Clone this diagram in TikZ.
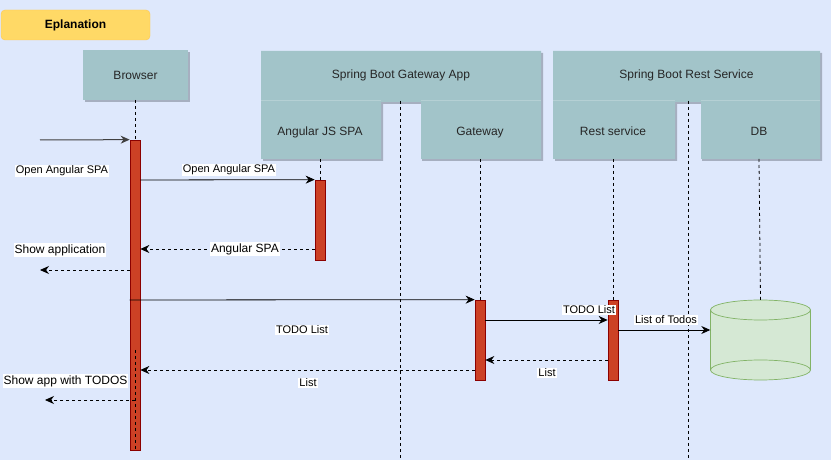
\documentclass[tikz,border=0pt]{standalone}
\usepackage{fontspec}
\setmainfont{Liberation Sans}
\usetikzlibrary{arrows.meta}
\definecolor{bgblue}{HTML}{DEE8FC}
\definecolor{teal}{HTML}{A2C4C9}
\definecolor{shadowc}{HTML}{A6AFC0}
\definecolor{actfill}{HTML}{CC4125}
\definecolor{actdraw}{HTML}{8B0000}
\definecolor{ybox}{HTML}{FFD966}
\definecolor{dbfill}{HTML}{D5E8D4}
\definecolor{dbdraw}{HTML}{82B366}
\definecolor{divc}{HTML}{B5D0D4}
\begin{document}
\begin{tikzpicture}[x=1pt,y=-1pt,
  boxtext/.style={font=\fontsize{12}{14}\selectfont, text=black!85},
  lowtext/.style={boxtext, anchor=base},
  lbl/.style={fill=white, inner sep=1pt, font=\fontsize{11}{13}\selectfont},
  lblbig/.style={lbl, font=\fontsize{12}{14}\selectfont},
  act/.style={draw=actdraw, fill=actfill, line width=0.7pt, inner sep=0pt, minimum width=10pt},
  life/.style={dash pattern=on 3pt off 3pt, line width=0.8pt},
  msg/.style={-{Stealth[length=9pt,width=8pt]}, line width=0.8pt},
  ret/.style={msg, dash pattern=on 3pt off 3pt}]
\useasboundingbox (0,0) rectangle (831,462);
\fill[bgblue] (0,0) rectangle (831,460);

% Explanation
\node[fill=ybox, draw=ybox!80!orange, rounded corners=4pt, minimum width=149pt, minimum height=30pt, inner sep=0pt,
  font=\bfseries\fontsize{12}{14}\selectfont] (expl) at (75.5,25) {Eplanation};

% Browser box
\fill[shadowc] (85,52) rectangle (190,102);
\fill[teal] (83,50) rectangle (188,100);
\node[boxtext] (browser) at (135.5,75) {Browser};

% Spring Boot Gateway App
\fill[shadowc] (263,53) -- (543,53) -- (543,161) -- (422,161) -- (422,104) -- (383,104) -- (383,161) -- (263,161) -- cycle;
\fill[teal] (261,51) -- (541,51) -- (541,159) -- (421,159) -- (421,102) -- (381,102) -- (381,159) -- (261,159) -- cycle;
\draw[divc, line width=0.5pt] (261,100.5) -- (381,100.5) (421,100.5) -- (541,100.5);
\node[boxtext] (gwapp) at (401,75) {Spring Boot Gateway App};
\node[lowtext] (spa) at (320,135.5) {Angular JS SPA};
\node[lowtext] (gateway) at (480,135.5) {Gateway};

% Spring Boot Rest Service
\fill[shadowc] (555,53) -- (822,53) -- (822,161) -- (702,161) -- (702,104) -- (677,104) -- (677,161) -- (555,161) -- cycle;
\fill[teal] (553,51) -- (820,51) -- (820,159) -- (701,159) -- (701,102) -- (675,102) -- (675,159) -- (553,159) -- cycle;
\draw[divc, line width=0.5pt] (553,100.5) -- (675,100.5) (701,100.5) -- (820,100.5);
\node[boxtext] (restapp) at (686.5,75) {Spring Boot Rest Service};
\node[lowtext] (rest) at (613,135.5) {Rest service};
\node[lowtext] (db) at (759,135.5) {DB};

% lifeline anchors
\coordinate (bTop) at (135,100);
\coordinate (spaTop) at (320,159);
\coordinate (gwcTop) at (400,101);
\coordinate (gwcBot) at (400,458);
\coordinate (gwTop) at (480,159);
\coordinate (rsTop) at (613,159);
\coordinate (rccTop) at (688,101);
\coordinate (rccBot) at (688,458);
\coordinate (dbTop) at (759,159);

% activation bars
\node[act, minimum height=310pt] (bact) at (135,295) {};
\node[act, minimum height=80pt] (sact) at (320,220) {};
\node[act, minimum height=80pt] (gact) at (480,340) {};
\node[act, minimum height=80pt] (ract) at (613,340) {};

% DB cylinder
\node[inner sep=0pt, minimum width=100pt, minimum height=80pt] (dbcyl) at (760.5,340) {};
\fill[dbfill] (710.5,310) -- (710.5,370) arc[start angle=180, end angle=360, x radius=50pt, y radius=10pt]
  -- (810.5,310) arc[start angle=0, end angle=180, x radius=50pt, y radius=10pt] -- cycle;
\fill[dbfill] (760.5,310) ellipse[x radius=50pt, y radius=10pt];
\draw[dbdraw, line width=0.7pt] (760.5,310) ellipse[x radius=50pt, y radius=10pt];
\draw[dbdraw, line width=0.7pt] (760.5,370) ellipse[x radius=50pt, y radius=10pt];
\draw[dbdraw, line width=0.7pt] (710.5,310) -- (710.5,370) (810.5,310) -- (810.5,370);

% lifelines
\draw[life] (bTop) -- (bact.north);
\draw[life] (spaTop) -- (sact.north);
\draw[life] (gwcTop) -- (gwcBot);
\draw[life] (gwTop) -- (gact.north);
\draw[life] (rsTop) -- (ract.north);
\draw[life] (rccTop) -- (rccBot);
\draw[life] (dbTop) -- (dbcyl.north);
\draw[life] (135,350) -- (bact.south);

% messages
\coordinate (in0) at (40,140);
\draw[msg, draw=black!75, line width=1pt] (in0) -- (bact.north west);
\node[lbl] (l1) at (62,171) {Open Angular SPA};

\draw[msg] (bact.east |- 0,180) -- (sact.north west);
\node[lbl] (l2) at (229,170) {Open Angular SPA};

\draw[ret] (sact.west |- 0,249) -- (bact.east |- 0,249)
  node[lblbig, pos=0.4] (l3) {Angular SPA};

\node[lblbig] (l4) at (60,250) {Show application};
\coordinate (out1) at (40,270);
\draw[ret] (bact.west |- 0,270) -- (out1);

\draw[msg] (bact.west |- 0,300) -- (gact.north west);
\node[lbl] (l5) at (302,330) {TODO List};

\draw[msg] (gact.east |- 0,320) -- (ract.west |- 0,320);
\node[lbl] (l6) at (589,310) {TODO List};

\draw[msg] (ract.east |- 0,330) -- (dbcyl.west |- 0,330);
\node[lbl] (l7) at (666,320) {List of Todos};

\draw[ret] (ract.west |- 0,360) -- (gact.east |- 0,360);
\node[lbl] (l8) at (547,373) {List};

\draw[ret] (gact.west |- 0,370) -- (bact.east |- 0,370);
\node[lbl] (l9) at (308,383) {List};

\node[lblbig] (l10) at (65.5,381) {Show app with TODOS};
\coordinate (out2) at (45,400);
\draw[ret] (bact.center |- 0,400) -- (out2);
\end{tikzpicture}
\end{document}
